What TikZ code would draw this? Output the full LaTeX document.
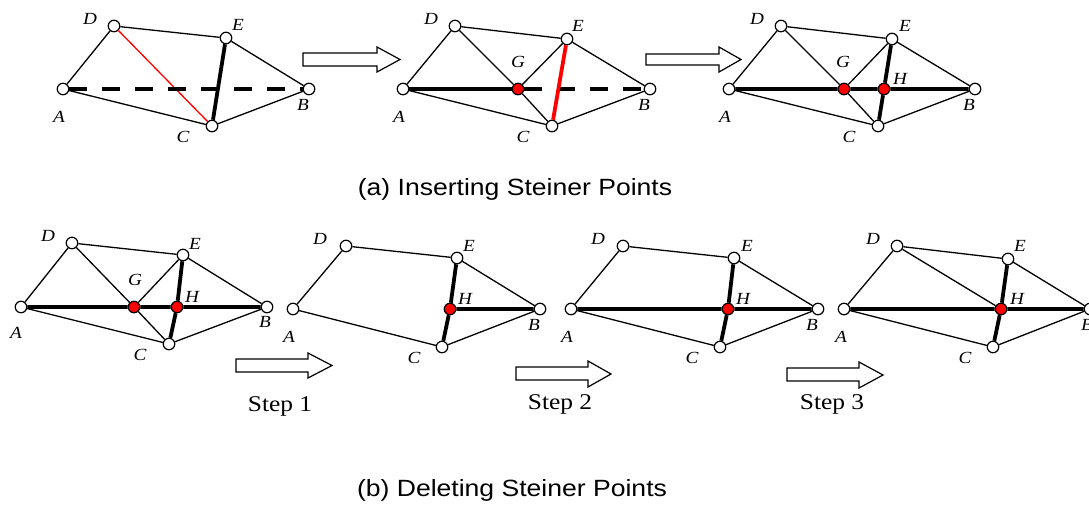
\documentclass[tikz,border=0pt]{standalone}
\usepackage{fontspec}
\setmainfont[FakeStretch=1.13]{Liberation Serif}
\newfontfamily\capfont[FakeStretch=1.13]{Liberation Sans}
\begin{document}
\begin{tikzpicture}[x=1pt,y=-1pt,
  vtx/.style={circle,draw,fill=white,line width=1.2pt,inner sep=0pt,minimum size=11.5pt},
  stp/.style={vtx,fill=red},
  lbl/.style={font=\fontsize{17}{17}\selectfont\itshape,inner sep=0pt},
  thn/.style={line width=1.3pt},
  tk/.style={line width=3.8pt},
  dsh/.style={line width=3.8pt,dash pattern=on 18pt off 15pt},
  blk/.style={draw,line width=1.2pt,fill=white,line join=miter},
  captxt/.style={font=\capfont\fontsize{23.5}{23.5}\selectfont,inner sep=0pt},
  stepl/.style={font=\fontsize{22.5}{22.5}\selectfont,inner sep=0pt}]
\useasboundingbox (0,0) rectangle (1089,517);

% ---------- graph 1 ----------
\node[vtx] (A1) at (63,89) {};
\node[vtx] (B1) at (309,89) {};
\node[vtx] (C1) at (212,126) {};
\node[vtx] (D1) at (114,26) {};
\node[vtx] (E1) at (226,38) {};
\draw[thn] (A1)--(D1) (D1)--(E1) (E1)--(B1) (B1)--(C1) (C1)--(A1);
\draw[thn,red] (D1)--(C1);
\draw[tk] (E1)--(C1);
\draw[dsh] (A1)--(B1);
\node[lbl] (lA1) at (59,117) {A};
\node[lbl] (lB1) at (303,105) {B};
\node[lbl] (lC1) at (183,137) {C};
\node[lbl] (lD1) at (90,19) {D};
\node[lbl] (lE1) at (238,25) {E};

% ---------- graph 2 ----------
\node[vtx] (A2) at (403,89) {};
\node[vtx] (B2) at (650,89) {};
\node[vtx] (C2) at (552,126) {};
\node[vtx] (D2) at (455,26) {};
\node[vtx] (E2) at (567,39) {};
\node[stp] (G2) at (518,89) {};
\draw[thn] (A2)--(D2) (D2)--(E2) (E2)--(B2) (B2)--(C2) (C2)--(A2)
           (D2)--(G2) (G2)--(C2) (G2)--(E2);
\draw[tk] (A2)--(G2);
\draw[dsh] (G2)--(B2);
\draw[tk,red] (E2)--(C2);
\node[lbl] (lA2) at (399,117) {A};
\node[lbl] (lB2) at (644,105) {B};
\node[lbl] (lC2) at (523,137) {C};
\node[lbl] (lD2) at (431,19) {D};
\node[lbl] (lE2) at (578,26) {E};
\node[lbl] (lG2) at (518,62) {G};

% ---------- graph 3 ----------
\node[vtx] (A3) at (729,89) {};
\node[vtx] (B3) at (975,89) {};
\node[vtx] (C3) at (878,126) {};
\node[vtx] (D3) at (781,26) {};
\node[vtx] (E3) at (892,39) {};
\node[stp] (G3) at (844,89) {};
\node[stp] (H3) at (884,89) {};
\draw[thn] (A3)--(D3) (D3)--(E3) (E3)--(B3) (B3)--(C3) (C3)--(A3)
           (D3)--(G3) (G3)--(C3) (G3)--(E3);
\draw[tk] (A3)--(G3) (G3)--(H3) (H3)--(B3) (E3)--(H3) (H3)--(C3);
\node[lbl] (lA3) at (725,117) {A};
\node[lbl] (lB3) at (969,105) {B};
\node[lbl] (lC3) at (849,137) {C};
\node[lbl] (lD3) at (757,19) {D};
\node[lbl] (lE3) at (905,26) {E};
\node[lbl] (lG3) at (843,62) {G};
\node[lbl] (lH3) at (900,79) {H};

% ---------- graph 4 ----------
\node[vtx] (A4) at (21,307) {};
\node[vtx] (B4) at (267,307) {};
\node[vtx] (C4) at (169,344) {};
\node[vtx] (D4) at (72,243) {};
\node[vtx] (E4) at (183,255) {};
\node[stp] (G4) at (134,307) {};
\node[stp] (H4) at (177,307) {};
\draw[thn] (A4)--(D4) (D4)--(E4) (E4)--(B4) (B4)--(C4) (C4)--(A4)
           (D4)--(G4) (G4)--(C4) (G4)--(E4);
\draw[tk] (A4)--(G4) (G4)--(H4) (H4)--(B4) (E4)--(H4) (H4)--(C4);
\node[lbl] (lA4) at (16,333) {A};
\node[lbl] (lB4) at (265,322) {B};
\node[lbl] (lC4) at (140,355) {C};
\node[lbl] (lD4) at (48,236) {D};
\node[lbl] (lE4) at (195,244) {E};
\node[lbl] (lG4) at (135,280) {G};
\node[lbl] (lH4) at (192,297) {H};

% ---------- graph 5 ----------
\node[vtx] (A5) at (293,309) {};
\node[vtx] (B5) at (540,309) {};
\node[vtx] (C5) at (442,347) {};
\node[vtx] (D5) at (346,246) {};
\node[vtx] (E5) at (457,258) {};
\node[stp] (H5) at (450,309) {};
\draw[thn] (A5)--(D5) (D5)--(E5) (E5)--(B5) (B5)--(C5) (C5)--(A5);
\draw[tk] (E5)--(H5) (H5)--(C5) (H5)--(B5);
\node[lbl] (lA5) at (289,337) {A};
\node[lbl] (lB5) at (534,325) {B};
\node[lbl] (lC5) at (414,358) {C};
\node[lbl] (lD5) at (320,239) {D};
\node[lbl] (lE5) at (469,246) {E};
\node[lbl] (lH5) at (465,299) {H};

% ---------- graph 6 ----------
\node[vtx] (A6) at (571,309) {};
\node[vtx] (B6) at (818,309) {};
\node[vtx] (C6) at (720,347) {};
\node[vtx] (D6) at (623,246) {};
\node[vtx] (E6) at (734,258) {};
\node[stp] (H6) at (728,309) {};
\draw[thn] (A6)--(D6) (D6)--(E6) (E6)--(B6) (B6)--(C6) (C6)--(A6);
\draw[tk] (A6)--(H6) (H6)--(B6) (E6)--(H6) (H6)--(C6);
\node[lbl] (lA6) at (567,337) {A};
\node[lbl] (lB6) at (812,325) {B};
\node[lbl] (lC6) at (692,358) {C};
\node[lbl] (lD6) at (598,239) {D};
\node[lbl] (lE6) at (747,246) {E};
\node[lbl] (lH6) at (743,299) {H};

% ---------- graph 7 ----------
\node[vtx] (A7) at (844,309) {};
\node[vtx] (B7) at (1090,309) {};
\node[vtx] (C7) at (993,347) {};
\node[vtx] (D7) at (897,246) {};
\node[vtx] (E7) at (1008,259) {};
\node[stp] (H7) at (1001,309) {};
\draw[thn] (A7)--(D7) (D7)--(E7) (E7)--(B7) (B7)--(C7) (C7)--(A7) (D7)--(H7);
\draw[tk] (A7)--(H7) (H7)--(B7) (E7)--(H7) (H7)--(C7);
\node[lbl] (lA7) at (841,337) {A};
\node[lbl] (lB7) at (1087,325) {B};
\node[lbl] (lC7) at (965,358) {C};
\node[lbl] (lD7) at (873,239) {D};
\node[lbl] (lE7) at (1020,246) {E};
\node[lbl] (lH7) at (1017,299) {H};

% ---------- block arrows ----------
\draw[blk] (303,53)--(377,53)--(377,47)--(400,59.5)--(377,72)--(377,66)--(303,66)--cycle;
\draw[blk] (646,54)--(719,54)--(719,47)--(741,59.5)--(719,72)--(719,65)--(646,65)--cycle;
\draw[blk] (236,359)--(308,359)--(308,353)--(332,365.5)--(308,378)--(308,372)--(236,372)--cycle;
\draw[blk] (516,367)--(588,367)--(588,361)--(611,374)--(588,387)--(588,380)--(516,380)--cycle;
\draw[blk] (787,368)--(859,368)--(859,362)--(883,375)--(859,388)--(859,381)--(787,381)--cycle;

% ---------- texts ----------
\node[stepl] (s1) at (280,406) {Step 1};
\node[stepl] (s2) at (560,404) {Step 2};
\node[stepl] (s3) at (832,404) {Step 3};
\node[captxt] (capa) at (515,189) {(a) Inserting Steiner Points};
\node[captxt] (capb) at (512,490) {(b) Deleting Steiner Points};
\end{tikzpicture}
\end{document}
